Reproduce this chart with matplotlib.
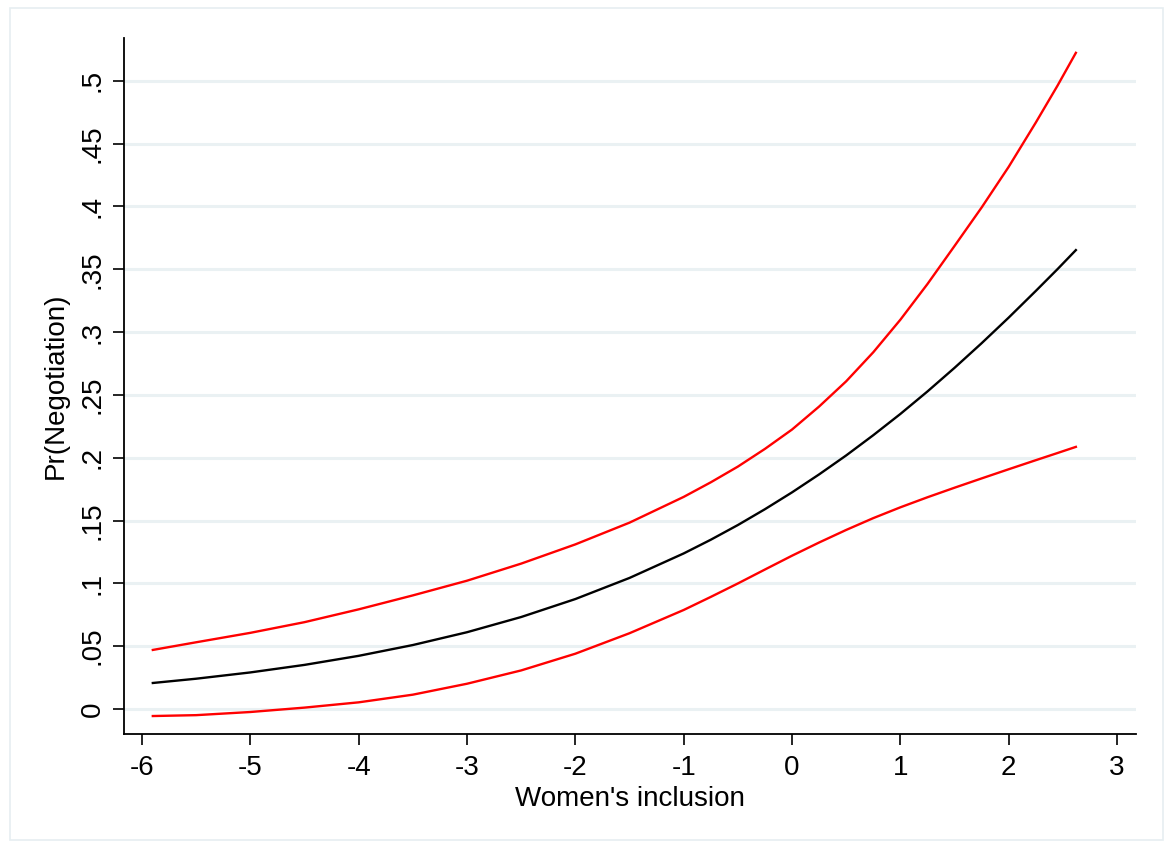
import matplotlib
matplotlib.use("Agg")
import matplotlib.pyplot as plt
from matplotlib.patches import Rectangle

plt.rcParams['font.family'] = ['Liberation Sans', 'DejaVu Sans']

# Data
inclusion = [-5.9, -5.5, -5.0, -4.5, -4.0, -3.5, -3.0, -2.5, -2.0, -1.5,
             -1.0, -0.75, -0.5, -0.25, 0.0, 0.25, 0.5, 0.75, 1.0, 1.25,
             1.5, 1.75, 2.0, 2.25, 2.45, 2.62]
pr_mean = [0.0207, 0.0241, 0.0291, 0.0351, 0.0423, 0.0509, 0.0611, 0.0732, 0.0875, 0.1043,
           0.1238, 0.1347, 0.1464, 0.1590, 0.1724, 0.1867, 0.2018, 0.2179, 0.2348, 0.2527,
           0.2715, 0.2911, 0.3115, 0.3327, 0.3500, 0.3652]
pr_upper = [0.0470, 0.0531, 0.0606, 0.0691, 0.0793, 0.0904, 0.1021, 0.1157, 0.1310, 0.1483,
            0.1688, 0.1804, 0.1929, 0.2070, 0.2224, 0.2407, 0.2608, 0.2839, 0.3098, 0.3382,
            0.3685, 0.3991, 0.4315, 0.4667, 0.4960, 0.5222]
pr_lower = [-0.0056, -0.0049, -0.0024, 0.0011, 0.0053, 0.0114, 0.0201, 0.0307, 0.0440, 0.0603,
            0.0788, 0.0892, 0.0999, 0.1110, 0.1220, 0.1325, 0.1425, 0.1519, 0.1605, 0.1685,
            0.1761, 0.1835, 0.1908, 0.1980, 0.2037, 0.2086]

x_ticks = [-6, -5, -4, -3, -2, -1, 0, 1, 2, 3]
y_ticks = [0, 0.05, 0.1, 0.15, 0.2, 0.25, 0.3, 0.35, 0.4, 0.45, 0.5]
y_ticklabels = ['0', '.05', '.1', '.15', '.2', '.25', '.3', '.35', '.4', '.45', '.5']

W, H = 1167, 843
fig = plt.figure(figsize=(W / 100, H / 100), dpi=100)
fig.patch.set_facecolor('white')

# light outer border of the graph region
fig.patches.append(Rectangle((10 / W, 1 - 840 / H), (1163 - 10) / W, (840 - 8) / H,
                             transform=fig.transFigure, fill=False,
                             edgecolor='#e6eef1', linewidth=1.2))

ax = fig.add_axes([124 / W, 1 - 734 / H, (1136 - 124) / W, (734 - 38) / H])
ax.set_facecolor('white')

ax.set_xlim(-6.166, 3.175)
ax.set_ylim(-0.0199, 0.534)

for yt in y_ticks:
    ax.axhline(yt, color='#eaf1f3', linewidth=2.2, zorder=0)

ax.plot(inclusion, pr_upper, color='#ff0000', linewidth=1.7, zorder=3)
ax.plot(inclusion, pr_lower, color='#ff0000', linewidth=1.7, zorder=3)
ax.plot(inclusion, pr_mean, color='black', linewidth=1.7, zorder=3)

for side in ['top', 'right']:
    ax.spines[side].set_visible(False)
for side in ['left', 'bottom']:
    ax.spines[side].set_linewidth(1.3)
    ax.spines[side].set_color('black')

ax.set_xticks(x_ticks)
ax.set_xticklabels([str(v) for v in x_ticks])
ax.set_yticks(y_ticks)
ax.set_yticklabels(y_ticklabels, rotation=90, va='center')

ax.tick_params(axis='both', direction='out', length=8, width=1.2, labelsize=20, pad=7)
ax.tick_params(axis='y', pad=5)

ax.set_xlabel("Women's inclusion", fontsize=20, labelpad=4)
ax.set_ylabel("Pr(Negotiation)", fontsize=20, labelpad=8)

fig.savefig('out.png', dpi=100, facecolor='white')
